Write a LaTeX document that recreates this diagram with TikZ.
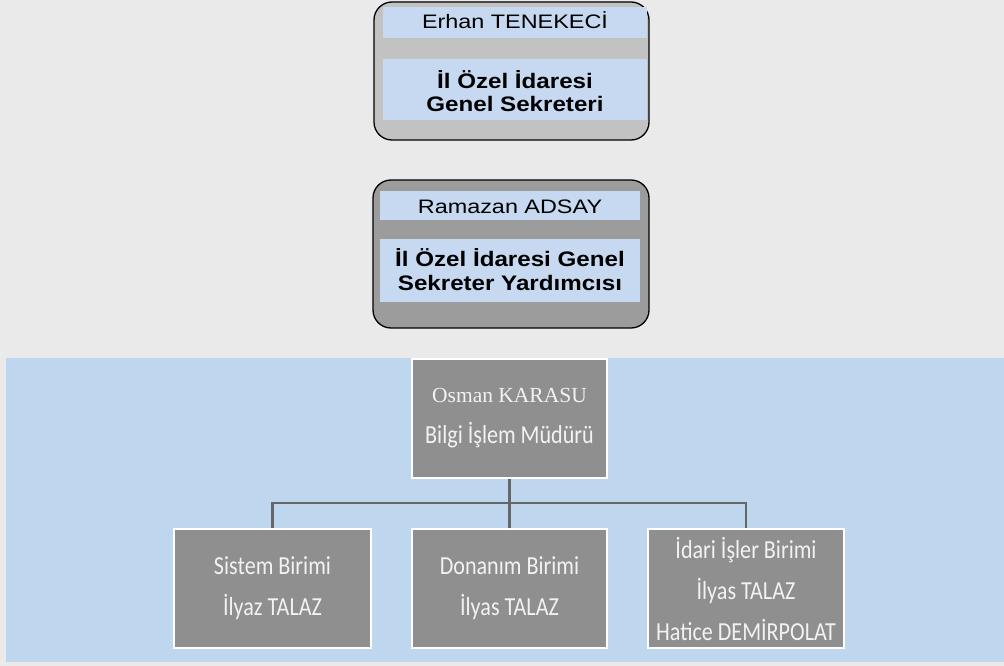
\documentclass[tikz,border=0pt]{standalone}
\usepackage{fontspec}
\newfontfamily\arialx[FakeStretch=1.2]{Liberation Sans}
\newfontfamily\arialb[FakeStretch=1.15]{Liberation Sans}
\newfontfamily\timesx{Liberation Serif}
\newfontfamily\calibx[FakeStretch=0.85]{Carlito}
\definecolor{bgc}{HTML}{EAEAEA}
\definecolor{panel}{HTML}{BED6EE}
\definecolor{band}{HTML}{C6D9F1}
\definecolor{topgray}{HTML}{C2C2C2}
\definecolor{midgray}{HTML}{9C9C9C}
\definecolor{unitgray}{HTML}{8F8F8F}
\definecolor{unittext}{HTML}{F2F2F2}
\definecolor{linec}{HTML}{676767}
\tikzset{
  headbox/.style={draw=black, line width=1.3pt, rounded corners=18pt, inner sep=0pt},
  bandfill/.style={fill=band},
  unit/.style={draw=white, line width=2pt, fill=unitgray, text=unittext, inner sep=0pt,
    minimum height=119pt, align=center},
  unitfont/.style={font=\calibx\fontsize{26}{41}\selectfont},
  conn/.style={draw=linec, line width=2.3pt},
  nametext/.style={font=\arialx\fontsize{19.5}{23.5}\selectfont, anchor=base, inner sep=0pt},
  titletext/.style={font=\arialb\bfseries\fontsize{21}{23.5}\selectfont, anchor=base, inner sep=0pt, align=center}
}
\begin{document}
\begin{tikzpicture}[x=1pt,y=-1pt]
\useasboundingbox (0,0) rectangle (1004,666);
\fill[bgc] (0,0) rectangle (1004,666);
% panel
\fill[panel] (6,358) rectangle (1004,662);

% top box 1
\node[headbox, fill=topgray, minimum width=275pt, minimum height=138pt] (gs) at (511.5,71) {};
\fill[bandfill] (383,7) rectangle (647,38);
\fill[bandfill] (383,59) rectangle (647,120);
\node[nametext] (gsname) at (515,29) {Erhan TENEKEC\.I};
\node[titletext] (gstitle) at (515,112) {\.Il Özel \.Idaresi\\Genel Sekreteri};

% top box 2
\node[headbox, fill=midgray, minimum width=276pt, minimum height=148pt] (gsy) at (511,254) {};
\fill[bandfill] (380,191) rectangle (640,220);
\fill[bandfill] (380,239) rectangle (640,302);
\node[nametext] (gsyname) at (510,213) {Ramazan ADSAY};
\node[titletext] (gsytitle) at (510,290) {\.Il Özel \.Idaresi Genel\\Sekreter Yardımcısı};

% connectors
\coordinate (bus) at (509.5,503);
\coordinate (osb) at (509.5,478);
\coordinate (s1) at (272.5,529);
\coordinate (s2) at (509.5,529);
\coordinate (s3) at (746,529);
\draw[conn] (osb) -- (bus);
\draw[conn] (bus) -| (s1);
\draw[conn] (bus) -- (s2);
\draw[conn] (bus) -| (s3);

% org units
\node[unit, minimum width=195pt, font=\fontsize{22}{41}\selectfont] (mudur) at (509.5,418.5)
  {{\timesx\fontsize{21.5}{41}\selectfont Osman KARASU}\\{\calibx\fontsize{26}{41}\selectfont Bilgi \.I\c{s}lem Müdürü}};
\node[unit, unitfont, minimum width=197pt] (sistem) at (272.5,588.5)
  {Sistem Birimi\\\.Ilyaz TALAZ};
\node[unit, unitfont, minimum width=195pt] (donanim) at (509.5,588.5)
  {Donanım Birimi\\\.Ilyas TALAZ};
\node[unit, unitfont, minimum width=196pt] (idari) at (746,588.5)
  {\.Idari \.I\c{s}ler Birimi\\\.Ilyas TALAZ\\Hatice DEM\.IRPOLAT};
\end{tikzpicture}
\end{document}
